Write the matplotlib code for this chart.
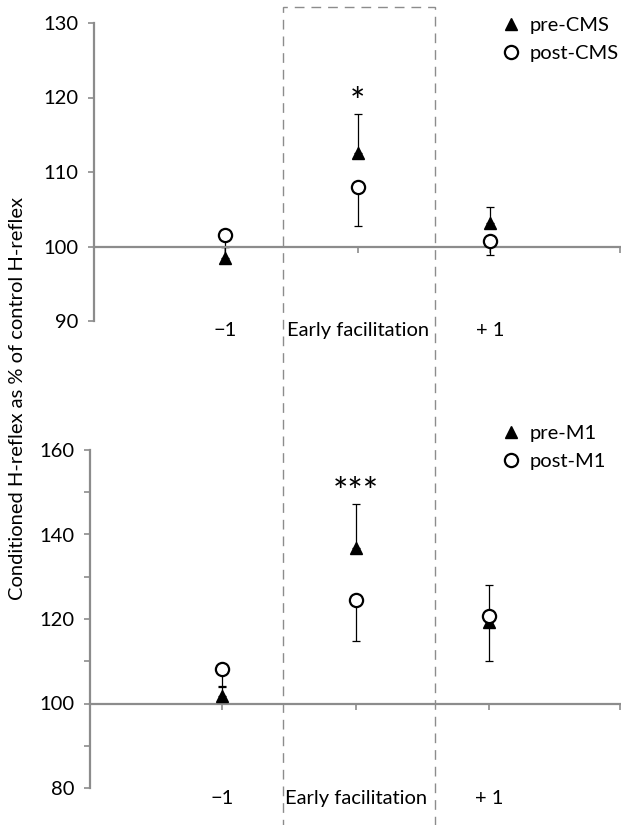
import matplotlib
matplotlib.use('Agg')
from matplotlib import pyplot as plt
from matplotlib.patches import Rectangle
from matplotlib.ticker import MultipleLocator
import matplotlib.transforms as mtransforms
import numpy as np

plt.rcParams['font.family'] = ['Lato', 'DejaVu Sans']

# categories along x
categories = ['\u22121', 'Early facilitation', '+ 1']

# top panel: CMS
cms_pre = [98.5, 112.5, 103.2]
cms_pre_err = [1.5, 5.3, 2.1]
cms_post = [101.5, 108.0, 100.7]
cms_post_err = [1.5, 5.2, 1.9]
cms_sig = ['', '*', '']

# bottom panel: M1
m1_pre = [101.7, 136.9, 119.4]
m1_pre_err = [2.5, 10.4, 8.6]
m1_post = [108.2, 124.4, 120.6]
m1_post_err = [4.2, 9.5, 10.6]
m1_sig = ['', '***', '']

W, H = 621, 825
fig = plt.figure(figsize=(W / 100, H / 100), dpi=100)

gray = '#8c8c8c'
fs = 14.5
x = np.arange(1, len(categories) + 1)


def panel(rect, ylim, major, minor, pre, pre_err, post, post_err, sig,
          labels, leg_xy):
    ax = fig.add_axes(rect)
    ax.set_xlim(0.01, 3.98)
    ax.set_ylim(*ylim)
    for s in ['top', 'right']:
        ax.spines[s].set_visible(False)
    ax.spines['left'].set_color(gray)
    ax.spines['left'].set_linewidth(1.6)
    ax.spines['bottom'].set_position(('data', 100))
    ax.spines['bottom'].set_color(gray)
    ax.spines['bottom'].set_linewidth(1.6)
    ax.yaxis.set_major_locator(MultipleLocator(major))
    if minor:
        ax.yaxis.set_minor_locator(MultipleLocator(minor))
        ax.tick_params(axis='y', which='minor', length=4, width=1.2,
                       color=gray)
    ax.tick_params(axis='y', which='major', length=4, width=1.2, color=gray,
                   labelsize=fs, pad=7)
    ax.set_xticks([1, 2, 3, 3.98])
    ax.tick_params(axis='x', length=4, width=1.2, color=gray,
                   labelbottom=False)

    zeros = np.zeros(len(pre))
    ax.errorbar(x, pre, yerr=[zeros, pre_err], fmt='none', ecolor='black',
                elinewidth=0.9, capsize=3, capthick=0.9, zorder=2)
    ax.errorbar(x, post, yerr=[post_err, zeros], fmt='none', ecolor='black',
                elinewidth=0.9, capsize=3, capthick=0.9, zorder=2)
    ax.plot(x, pre, linestyle='none', marker='^', ms=9, color='black',
            label=labels[0], zorder=3)
    ax.plot(x, post, linestyle='none', marker='o', ms=9.5, mfc='white',
            mec='black', mew=1.6, label=labels[1], zorder=4)

    for xi, yi, ei, s in zip(x, pre, pre_err, sig):
        if s:
            ax.annotate(s, (xi, yi + ei), xytext=(0, 0),
                        textcoords='offset points', ha='center',
                        va='baseline', fontsize=26)

    trans = mtransforms.blended_transform_factory(ax.transData, ax.transAxes)
    for xi, c in zip(x, categories):
        ax.text(xi, -0.005, c, transform=trans, ha='center', va='top',
                fontsize=fs)

    ax.legend(loc='upper left', bbox_to_anchor=leg_xy,
              bbox_transform=fig.transFigure, frameon=False, fontsize=fs,
              handletextpad=0.3, labelspacing=0.55, handlelength=1.2,
              borderpad=0, borderaxespad=0)
    return ax


panel([94 / W, 1 - 321 / H, 526 / W, 298 / H], (90, 130), 10, None,
      cms_pre, cms_pre_err, cms_post, cms_post_err, cms_sig,
      ['pre-CMS', 'post-CMS'], (499 / W, 1 - 17 / H))
panel([90 / W, 1 - 788 / H, 530 / W, 338 / H], (80, 160), 20, 10,
      m1_pre, m1_pre_err, m1_post, m1_post_err, m1_sig,
      ['pre-M1', 'post-M1'], (499 / W, 1 - 425 / H))

fig.text(18 / W, 1 - 399 / H, 'Conditioned H-reflex as % of control H-reflex',
         rotation=90, ha='center', va='center', fontsize=fs)

# dashed box around the early facilitation window
fig.patches.append(Rectangle((283 / W, -0.02), 152 / W, 1.02 - 7 / H,
                             transform=fig.transFigure, fill=False,
                             edgecolor=gray, linewidth=1.0,
                             linestyle=(0, (7, 5)), zorder=0))

fig.savefig('out.png', dpi=100)
